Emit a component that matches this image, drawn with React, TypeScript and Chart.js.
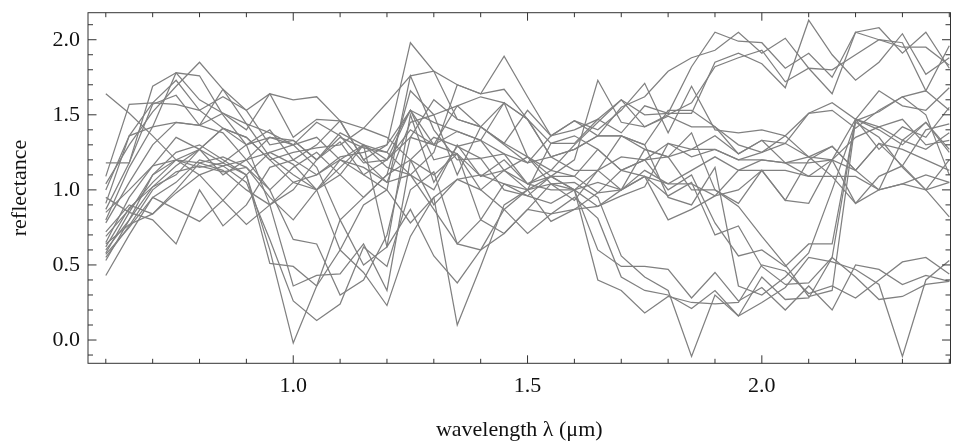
import React, { useEffect, useRef } from "react";
import { Chart, registerables } from "chart.js";

Chart.register(...registerables);

// wavelength λ (µm)
const wavelengths = [
  0.6, 0.65, 0.7, 0.75, 0.8, 0.85, 0.9, 0.95, 1.0, 1.05, 1.1, 1.15, 1.2, 1.25, 1.3, 1.35, 1.4, 1.45, 1.5,
  1.55, 1.6, 1.65, 1.7, 1.75, 1.8, 1.85, 1.9, 1.95, 2.0, 2.05, 2.1, 2.15, 2.2, 2.25, 2.3, 2.35, 2.4,
];

// reflectance spectra
const s0 = [1.04, 1.3, 1.52, 1.69, 1.85, 1.67, 1.44, 1.38, 1.3, 1.45, 1.36, 1.18, 1.2, 1.53, 1.45, 1.39, 1.33, 1.58, 1.47, 1.22, 1.27, 1.36, 1.55, 1.62, 1.79, 1.88, 1.93, 2.05, 1.91, 2.01, 1.81, 1.64, 2.05, 2.0, 1.98, 1.66, 1.96];
const s1 = [0.58, 0.85, 1.1, 1.2, 1.18, 1.22, 1.15, 1.0, 0.67, 0.64, 0.3, 0.4, 0.7, 1.35, 1.6, 1.47, 1.42, 1.31, 1.22, 1.13, 1.3, 1.45, 1.6, 1.5, 1.51, 1.82, 2.05, 1.99, 1.98, 1.81, 1.91, 1.75, 2.05, 2.08, 1.91, 2.05, 1.81];
const s2 = [1.0, 1.36, 1.58, 1.73, 1.53, 1.62, 1.53, 1.64, 1.35, 1.47, 1.46, 1.41, 1.58, 1.76, 1.79, 1.7, 1.64, 1.89, 1.62, 1.36, 1.4, 1.47, 1.38, 1.56, 1.51, 1.51, 1.85, 1.91, 1.84, 1.68, 2.13, 1.9, 1.73, 1.85, 2.04, 1.77, 1.88];
const s3 = [0.53, 0.8, 1.02, 1.1, 1.27, 1.41, 1.35, 1.2, 1.05, 1.1, 1.22, 1.25, 1.3, 1.53, 1.2, 1.24, 1.09, 1.13, 1.04, 1.09, 1.2, 1.73, 1.45, 1.42, 1.5, 1.58, 1.82, 1.88, 1.93, 1.72, 1.81, 1.8, 1.9, 2.0, 1.95, 1.95, 1.83];
const s4 = [0.64, 0.77, 0.84, 0.98, 1.1, 1.16, 1.05, 0.67, 0.26, 0.13, 0.24, 0.62, 0.49, 1.0, 1.12, 0.64, 0.8, 1.04, 0.96, 0.91, 1.0, 0.6, 0.49, 0.49, 0.47, 0.28, 0.45, 0.26, 0.35, 0.2, 0.36, 0.2, 0.5, 0.47, 0.37, 0.43, 0.39];
const s5 = [0.87, 1.18, 1.57, 1.63, 1.43, 1.51, 1.44, 1.22, 1.1, 1.0, 1.1, 1.3, 0.62, 0.87, 0.56, 0.38, 0.6, 0.71, 0.87, 1.04, 1.05, 0.95, 0.56, 0.42, 0.33, -0.11, 0.3, 0.16, 0.25, 0.35, 0.55, 0.52, 0.47, 0.37, -0.11, 0.4, 0.53];
const s6 = [0.65, 0.95, 1.16, 1.35, 1.27, 1.1, 1.2, 1.35, 1.3, 1.15, 0.8, 0.95, 1.1, 1.2, 0.9, 1.07, 1.0, 0.87, 0.71, 0.84, 0.95, 0.81, 0.42, 0.33, 0.3, 0.21, 0.33, 0.16, 0.42, 0.27, 0.28, 0.55, 0.42, 0.27, 0.29, 0.37, 0.39];
const s7 = [0.72, 0.9, 0.84, 1.0, 1.18, 1.13, 1.0, 0.9, 1.0, 1.2, 1.32, 1.1, 1.0, 0.78, 0.95, 0.1, 0.49, 0.9, 1.0, 1.09, 1.0, 0.4, 0.33, 0.18, 0.29, 0.25, 0.24, 0.25, 0.5, 0.46, 0.31, 0.36, 0.28, 0.4, 0.52, 0.55, 0.44];
const s8 = [0.62, 0.88, 1.02, 1.16, 1.27, 1.41, 1.3, 0.9, 0.36, 0.43, 0.44, 0.64, 0.33, 1.2, 1.35, 1.29, 1.21, 1.24, 1.18, 1.22, 1.13, 1.13, 1.22, 1.2, 1.0, 1.1, 0.78, 0.56, 0.6, 0.49, 0.64, 0.64, 1.47, 1.4, 1.3, 1.45, 1.25];
const s9 = [0.8, 1.15, 1.42, 1.78, 1.76, 1.5, 1.3, 1.4, 1.2, 1.3, 1.46, 1.2, 1.05, 1.1, 0.87, 0.64, 0.6, 0.87, 1.0, 1.31, 1.36, 1.27, 1.13, 1.09, 0.96, 1.05, 0.7, 0.76, 0.49, 0.37, 0.38, 0.55, 1.47, 1.27, 1.42, 1.35, 1.55];
const s10 = [0.85, 1.0, 1.16, 1.2, 1.1, 0.93, 1.1, 1.25, 1.17, 1.0, 1.15, 1.3, 1.2, 1.4, 1.3, 1.39, 1.33, 1.13, 1.22, 1.09, 1.09, 0.98, 1.0, 1.27, 1.22, 1.0, 1.0, 0.89, 0.69, 0.5, 0.29, 0.33, 1.46, 1.52, 1.62, 1.5, 1.1];
const s11 = [0.57, 0.75, 0.95, 1.05, 1.2, 1.16, 1.2, 1.0, 1.15, 1.25, 1.1, 0.95, 1.1, 1.66, 1.5, 1.56, 1.62, 1.58, 1.47, 1.22, 1.27, 1.36, 1.36, 1.3, 0.95, 0.9, 1.15, 0.36, 0.3, 0.42, 0.58, 1.0, 1.45, 1.35, 1.15, 1.0, 0.82];
const s12 = [1.18, 1.18, 1.69, 1.78, 1.6, 1.51, 1.4, 1.64, 1.6, 1.62, 1.46, 1.2, 1.3, 1.98, 1.79, 1.47, 1.42, 1.31, 1.53, 1.36, 1.46, 1.4, 1.53, 1.71, 1.38, 1.69, 1.4, 1.38, 1.4, 1.36, 1.51, 1.58, 1.47, 1.66, 1.56, 1.53, 1.68];
const s13 = [0.69, 0.87, 1.05, 1.2, 1.15, 1.18, 1.1, 0.6, -0.02, 0.36, 0.6, 0.45, 0.23, 0.69, 0.95, 1.07, 1.1, 1.04, 1.0, 1.04, 0.93, 1.13, 1.0, 1.09, 1.04, 1.13, 1.22, 1.13, 1.13, 1.13, 1.09, 1.09, 1.09, 1.0, 1.04, 1.0, 1.05];
const s14 = [1.09, 1.57, 1.58, 1.57, 1.53, 1.41, 1.35, 1.2, 1.25, 1.28, 1.3, 1.41, 1.35, 1.2, 1.1, 1.24, 1.0, 1.13, 1.0, 0.79, 0.87, 0.89, 0.96, 1.02, 1.31, 1.22, 1.27, 1.2, 1.2, 1.18, 1.22, 1.29, 1.13, 1.31, 1.27, 1.2, 1.13];
const s15 = [0.6, 0.8, 1.1, 1.25, 1.3, 1.2, 1.1, 0.51, 0.49, 0.36, 0.8, 0.5, 0.62, 1.5, 1.05, 1.29, 1.33, 1.24, 1.04, 1.13, 1.09, 1.27, 1.13, 1.2, 1.22, 1.27, 1.36, 1.24, 1.33, 1.18, 1.18, 1.2, 1.47, 1.42, 1.47, 1.3, 1.33];
const s16 = [0.91, 1.36, 1.42, 1.45, 1.43, 1.67, 1.53, 1.3, 1.33, 1.2, 1.35, 1.28, 1.25, 1.1, 1.25, 1.7, 1.64, 1.67, 1.47, 1.31, 1.31, 1.47, 1.6, 1.42, 1.49, 1.42, 1.42, 1.3, 1.25, 1.31, 1.22, 1.2, 1.35, 1.42, 1.33, 1.45, 1.27];
const s17 = [0.55, 0.76, 1.0, 1.12, 1.16, 1.12, 1.15, 0.95, 0.8, 1.0, 0.6, 0.9, 1.0, 1.76, 1.4, 1.2, 1.21, 1.0, 0.96, 1.09, 1.0, 1.13, 1.36, 1.27, 1.22, 1.38, 1.0, 0.91, 1.13, 0.93, 0.91, 1.2, 0.91, 1.09, 1.16, 1.0, 1.2];
const s18 = [0.78, 1.05, 1.3, 1.45, 1.43, 1.38, 1.2, 1.25, 1.3, 1.35, 1.2, 1.15, 1.05, 1.45, 1.5, 1.1, 1.42, 1.58, 1.22, 1.04, 1.0, 0.89, 1.0, 1.09, 0.8, 0.87, 0.96, 1.13, 1.2, 1.18, 1.09, 1.2, 1.13, 1.0, 1.04, 1.1, 1.05];
const s19 = [0.43, 0.7, 0.95, 0.87, 0.79, 0.93, 0.77, 0.9, 1.05, 1.0, 1.2, 1.1, 1.2, 1.35, 1.3, 1.24, 0.8, 0.71, 0.87, 0.84, 0.87, 0.98, 1.13, 1.2, 1.31, 1.27, 1.27, 1.2, 1.25, 1.36, 1.22, 1.09, 0.91, 1.0, 1.33, 1.27, 1.38];
const s20 = [1.64, 1.51, 1.36, 1.2, 1.27, 1.18, 1.3, 1.35, 1.33, 1.2, 1.38, 1.3, 1.25, 1.53, 1.3, 1.56, 1.42, 1.3, 1.18, 1.36, 1.46, 1.36, 1.36, 1.3, 1.53, 1.53, 1.42, 1.24, 1.33, 1.31, 1.51, 1.53, 1.41, 1.53, 1.62, 1.66, 1.53];
const s21 = [0.95, 0.85, 0.8, 0.64, 1.0, 0.76, 0.9, 1.15, 1.2, 1.1, 1.2, 1.3, 1.15, 1.1, 1.0, 1.3, 1.09, 1.2, 1.04, 1.0, 1.0, 1.05, 1.0, 1.13, 1.04, 1.04, 0.96, 1.0, 1.13, 0.93, 1.2, 1.29, 1.13, 1.31, 1.16, 1.4, 1.44];

const spectra = [s0, s1, s2, s3, s4, s5, s6, s7, s8, s9, s10, s11, s12, s13, s14, s15, s16, s17, s18, s19, s20, s21];

// axis ticks
const xMajorTicks = [1.0, 1.5, 2.0];
const xMinorTicks = [0.6, 0.7, 0.8, 0.9, 1.1, 1.2, 1.3, 1.4, 1.6, 1.7, 1.8, 1.9, 2.1, 2.2, 2.3, 2.4];
const yMajorTicks = [0.0, 0.5, 1.0, 1.5, 2.0];
const yMinorTicks = [-0.1, 0.1, 0.2, 0.3, 0.4, 0.6, 0.7, 0.8, 0.9, 1.1, 1.2, 1.3, 1.4, 1.6, 1.7, 1.8, 1.9, 2.1];

const xTitle = "wavelength λ (μm)";
const yTitle = "reflectance";

const FONT = "'Liberation Serif', 'DejaVu Serif', serif";

const framePlugin = {
  id: "frameTicks",
  afterDatasetsDraw(chart: any) {
    const { ctx, chartArea: a, scales } = chart;
    const xs = scales.x;
    const ys = scales.y;
    ctx.save();
    ctx.strokeStyle = "#333333";
    ctx.lineWidth = 1;
    ctx.beginPath();
    const seg = (x1: number, y1: number, x2: number, y2: number) => {
      ctx.moveTo(x1, y1);
      ctx.lineTo(x2, y2);
    };
    const xt = (v: number, len: number) => {
      const p = xs.getPixelForValue(v);
      seg(p, a.bottom, p, a.bottom - len);
      seg(p, a.top, p, a.top + len);
    };
    const yt = (v: number, len: number) => {
      const p = ys.getPixelForValue(v);
      seg(a.left, p, a.left + len, p);
      seg(a.right, p, a.right - len, p);
    };
    xMajorTicks.forEach((v) => xt(v, 8));
    xMinorTicks.forEach((v) => xt(v, 4.5));
    yMajorTicks.forEach((v) => yt(v, 8.5));
    yMinorTicks.forEach((v) => yt(v, 5));
    ctx.stroke();
    ctx.strokeRect(a.left, a.top, a.right - a.left, a.bottom - a.top);
    ctx.restore();
  },
};

export default function App() {
  const canvasRef = useRef<HTMLCanvasElement | null>(null);

  useEffect(() => {
    document.body.style.margin = "0";
    const canvas = canvasRef.current;
    if (!canvas) return;
    const datasets = spectra.map((s, k) => ({
      label: "spectrum " + (k + 1),
      data: wavelengths.map((w, i) => ({ x: w, y: s[i] })),
      borderColor: "#808080",
      borderWidth: 1.25,
      pointRadius: 0,
      tension: 0,
      fill: false,
    }));
    const chart = new Chart(canvas, {
      type: "line",
      data: { datasets },
      plugins: [framePlugin],
      options: {
        animation: false,
        responsive: false,
        maintainAspectRatio: false,
        layout: { padding: { top: 12.7, right: 5.5, left: 0, bottom: 0 } },
        plugins: { legend: { display: false }, tooltip: { enabled: false } },
        scales: {
          x: {
            type: "linear",
            min: 0.562,
            max: 2.4026,
            grid: { display: false, drawTicks: false },
            border: { display: false },
            afterFit: (scale: any) => {
              scale.height = 77.7;
              scale.paddingLeft = 0;
              scale.paddingRight = 0;
            },
            afterBuildTicks: (scale: any) => {
              scale.ticks = xMajorTicks.map((v) => ({ value: v }));
            },
            ticks: {
              padding: 10,
              color: "#111",
              maxRotation: 0,
              font: { family: FONT, size: 22 },
              callback: (v: any) => Number(v).toFixed(1),
            },
            title: {
              display: true,
              text: xTitle,
              color: "#111",
              font: { family: FONT, size: 22 },
              padding: { top: 0, bottom: -2 },
            },
          },
          y: {
            type: "linear",
            min: -0.155,
            max: 2.18,
            grid: { display: false, drawTicks: false },
            border: { display: false },
            afterFit: (scale: any) => {
              scale.width = 88;
              scale.paddingTop = 0;
              scale.paddingBottom = 0;
            },
            afterBuildTicks: (scale: any) => {
              scale.ticks = yMajorTicks.map((v) => ({ value: v }));
            },
            ticks: {
              padding: 8,
              color: "#111",
              font: { family: FONT, size: 22 },
              callback: (v: any) => Number(v).toFixed(1),
            },
            title: {
              display: true,
              text: yTitle,
              color: "#111",
              font: { family: FONT, size: 22 },
              padding: { top: 7, bottom: 0 },
            },
          },
        },
      },
    });
    return () => chart.destroy();
  }, []);

  return (
    <div style={{ width: 956, height: 441 }}>
      <canvas ref={canvasRef} width={956} height={441} style={{ display: "block" }} />
    </div>
  );
}
